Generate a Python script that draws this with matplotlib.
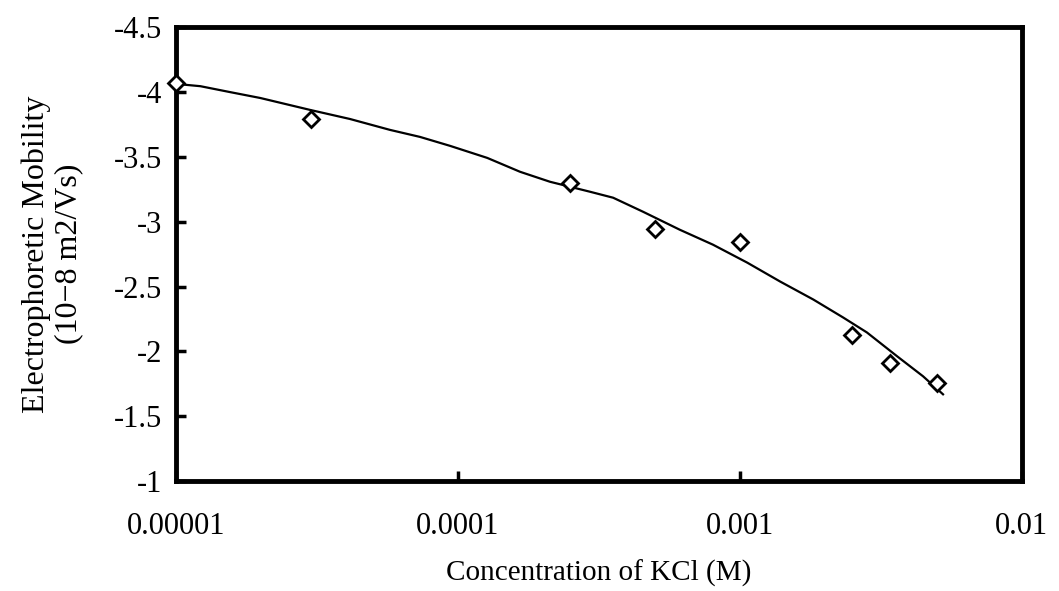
import matplotlib
matplotlib.use("Agg")
import matplotlib.pyplot as plt

# measured data (diamonds)
conc = [1e-5, 3e-5, 2.5e-4, 5e-4, 1e-3, 2.5e-3, 3.4e-3, 5e-3]
mobility = [-4.07, -3.79, -3.30, -2.94, -2.84, -2.13, -1.91, -1.76]

# fitted curve
fit_conc = [1e-5, 1.03e-5, 1.22e-5, 1.55e-5, 1.99e-5, 2.99e-5, 4.14e-5,
            5.74e-5, 7.33e-5, 9.37e-5, 1.27e-4, 1.66e-4, 2.12e-4, 2.94e-4,
            3.55e-4, 4.53e-4, 6.12e-4, 8.02e-4, 1.06e-3, 1.39e-3, 1.82e-3,
            2.32e-3, 2.82e-3, 3.61e-3, 4.46e-3, 5.25e-3]
fit_mob = [-4.07, -4.06, -4.045, -4.0, -3.954, -3.862, -3.792,
           -3.708, -3.654, -3.585, -3.492, -3.385, -3.308, -3.231,
           -3.185, -3.077, -2.938, -2.823, -2.685, -2.538, -2.40,
           -2.262, -2.146, -1.962, -1.808, -1.669]

xticks = [1e-5, 1e-4, 1e-3, 1e-2]
xticklabels = ["0.00001", "0.0001", "0.001", "0.01"]
yticks = [-4.5, -4, -3.5, -3, -2.5, -2, -1.5, -1]
yticklabels = ["-4.5", "-4", "-3.5", "-3", "-2.5", "-2", "-1.5", "-1"]

plt.rcParams['font.family'] = ['Liberation Serif', 'DejaVu Serif']

fig = plt.figure(figsize=(10.59, 5.91), dpi=100)
ax = fig.add_axes([0.1662, 0.186, 0.7988, 0.768])

ax.plot(fit_conc, fit_mob, color='black', lw=1.6, zorder=2)
ax.plot(conc, mobility, linestyle='none', marker='D', markersize=8,
        markerfacecolor='white', markeredgecolor='black', markeredgewidth=2,
        zorder=3, clip_on=False)

ax.set_xscale('log')
ax.set_xlim(1e-5, 1e-2)
ax.set_ylim(-1, -4.5)
ax.set_xticks(xticks)
ax.set_xticklabels(xticklabels)
ax.xaxis.set_minor_locator(matplotlib.ticker.NullLocator())
ax.set_yticks(yticks)
ax.set_yticklabels(yticklabels)

ax.tick_params(axis='both', direction='in', length=7, width=2.5,
               labelsize=22, pad=10)
ax.tick_params(axis='x', pad=22)
for sp in ax.spines.values():
    sp.set_linewidth(3.5)

ax.set_xlabel("Concentration of KCl (M)", fontsize=21, labelpad=14)
ax.set_ylabel("Electrophoretic Mobility\n(10\u22128 m2/Vs)", fontsize=23,
              labelpad=22, linespacing=1.15)

fig.savefig("out.png", dpi=100, facecolor='white')
